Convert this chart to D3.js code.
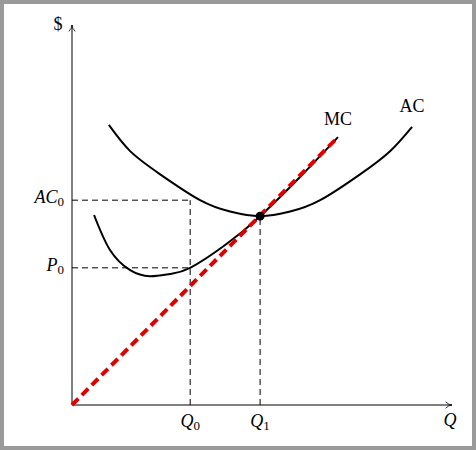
<!DOCTYPE html><html><head><script src="https://cdn.jsdelivr.net/npm/d3@7"></script>
<style>body{margin:0}svg{display:block}text{font-family:"Liberation Serif",serif;font-size:18px}</style></head><body>
<script>
const acCurve=[[0.97,7.37],[1.53,6.68],[2.32,6.07],[3.37,5.39],[4.16,5.09],[4.95,4.97],[5.74,5.09],[6.53,5.39],[7.58,6.07],[8.37,6.68],[8.95,7.32]];
const mcCurve=[[0.58,5],[1,4.08],[1.53,3.55],[2.05,3.39],[2.58,3.45],[3.11,3.61],[4.03,4.21],[4.95,4.97],[6,6],[7,7.05]];
const mcLine=[[0,0],[7,7.05]];
const q0=3.11,q1=4.95,ac0=5.39,p0=3.61,eqY=4.97;
const W=476,H=450;
const svg=d3.select("body").append("svg").attr("width",W).attr("height",H);
svg.append("rect").attr("width",W).attr("height",H).attr("fill","#fff").attr("stroke","#9a9a9a").attr("stroke-width",8);
const x=d3.scaleLinear().domain([0,10]).range([72,452]);
const y=d3.scaleLinear().domain([0,10]).range([405,25]);
const defs=svg.append("defs");
defs.append("marker").attr("id","ar").attr("viewBox","0 0 10 10").attr("refX",9).attr("refY",5).attr("markerWidth",8).attr("markerHeight",8).attr("orient","auto")
 .append("path").attr("d","M1,1 Q5,5 9,5 Q5,5 1,9").attr("fill","none").attr("stroke","#000").attr("stroke-width",1);
svg.append("line").attr("x1",x(0)).attr("y1",y(0)).attr("x2",x(10)).attr("y2",y(0)).attr("stroke","#000").attr("marker-end","url(#ar)");
svg.append("line").attr("x1",x(0)).attr("y1",y(0)).attr("x2",x(0)).attr("y2",y(10)).attr("stroke","#000").attr("marker-end","url(#ar)");
const dash=(a,b,c,d)=>svg.append("line").attr("x1",x(a)).attr("y1",y(b)).attr("x2",x(c)).attr("y2",y(d)).attr("stroke","#000").attr("stroke-dasharray","6,4");
dash(0,ac0,q0,ac0);dash(0,p0,q0,p0);dash(q0,0,q0,ac0);dash(q1,0,q1,eqY);
const line=d3.line().x(d=>x(d[0])).y(d=>y(d[1])).curve(d3.curveNatural);
svg.append("path").attr("d",line(acCurve)).attr("fill","none").attr("stroke","#000").attr("stroke-width",2);
svg.append("path").attr("d",line(mcCurve)).attr("fill","none").attr("stroke","#000").attr("stroke-width",2);
svg.append("path").attr("d",d3.line().x(d=>x(d[0])).y(d=>y(d[1]))(mcLine)).attr("fill","none").attr("stroke","#e00000").attr("stroke-width",4).attr("stroke-dasharray","9,5");
svg.append("circle").attr("cx",x(q1)).attr("cy",y(eqY)).attr("r",4.5).attr("fill","#000");
const t=(s,px,py,anchor,it)=>svg.append("text").attr("x",px).attr("y",py).attr("text-anchor",anchor).attr("dominant-baseline","middle").attr("font-style",it?"italic":"normal").text(s);
t("$",58,26,"middle");
t("Q",450,422,"middle",true);
t("MC",338,121,"middle");t("AC",412,108,"middle");
function sub(main,s,px,py,anchor){const tx=svg.append("text").attr("x",px).attr("y",py).attr("text-anchor",anchor).attr("dominant-baseline","middle");
 tx.append("tspan").attr("font-style","italic").text(main);tx.append("tspan").attr("font-size","13px").attr("dy",4).text(s);}
sub("AC","0",x(0)-8,y(ac0)-1,"end");sub("P","0",x(0)-8,y(p0)-1,"end");
sub("Q","0",x(q0),423,"middle");sub("Q","1",x(q1),423,"middle");
</script></body></html>
